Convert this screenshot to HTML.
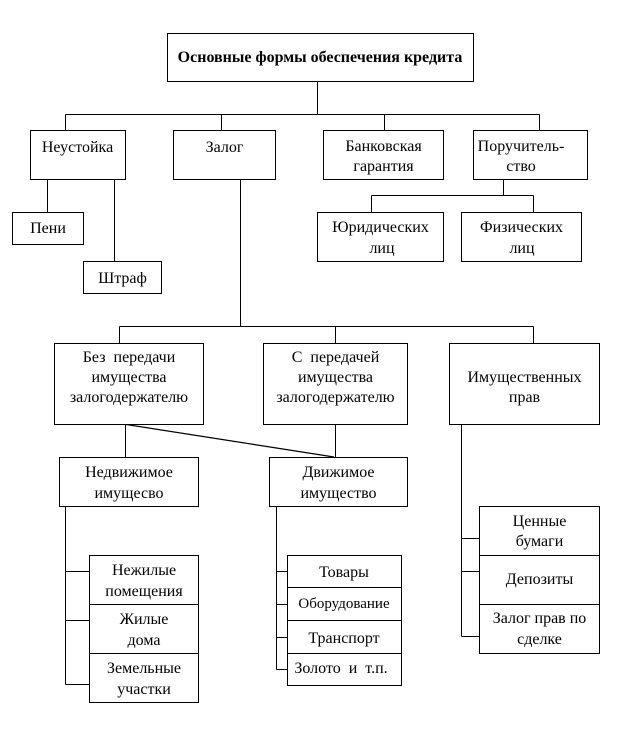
<!DOCTYPE html>
<html>
<head>
<meta charset="utf-8">
<style>
  html,body{margin:0;padding:0;background:#fff;}
  svg{display:block;}
  text{font-family:"Liberation Serif","DejaVu Serif",serif;font-size:16px;fill:#000;text-anchor:middle;white-space:pre;}
</style>
</head>
<body>
<svg width="642" height="741" viewBox="0 0 642 741" xmlns="http://www.w3.org/2000/svg">
<g fill="none" stroke="#000" stroke-width="1" shape-rendering="crispEdges">
  <!-- top -->
  <rect x="167.5" y="33.5" width="306" height="48"/>
  <line x1="317.5" y1="81.5" x2="317.5" y2="114.5"/>
  <line x1="65.5" y1="114.5" x2="539.5" y2="114.5"/>
  <line x1="65.5" y1="114.5" x2="65.5" y2="130.5"/>
  <line x1="221.5" y1="114.5" x2="221.5" y2="130.5"/>
  <line x1="384.5" y1="114.5" x2="384.5" y2="130.5"/>
  <line x1="539.5" y1="114.5" x2="539.5" y2="130.5"/>
  <!-- row 1 -->
  <rect x="30.5" y="130.5" width="95" height="49"/>
  <rect x="173.5" y="130.5" width="102" height="49"/>
  <rect x="323.5" y="130.5" width="120" height="49"/>
  <rect x="473.5" y="130.5" width="114" height="49"/>
  <!-- Неустойка children -->
  <line x1="47.5" y1="179.5" x2="47.5" y2="212.5"/>
  <rect x="12.5" y="212.5" width="71" height="32"/>
  <line x1="114.5" y1="179.5" x2="114.5" y2="261.5"/>
  <rect x="83.5" y="261.5" width="78" height="32"/>
  <!-- Поручительство children -->
  <line x1="503.5" y1="179.5" x2="503.5" y2="195.5"/>
  <line x1="371.5" y1="195.5" x2="533.5" y2="195.5"/>
  <line x1="371.5" y1="195.5" x2="371.5" y2="212.5"/>
  <line x1="533.5" y1="195.5" x2="533.5" y2="212.5"/>
  <rect x="317.5" y="212.5" width="126" height="49"/>
  <rect x="461.5" y="212.5" width="120" height="49"/>
  <!-- Залог children -->
  <line x1="240.5" y1="179.5" x2="240.5" y2="326.5"/>
  <line x1="119.5" y1="326.5" x2="533.5" y2="326.5"/>
  <line x1="119.5" y1="326.5" x2="119.5" y2="343.5"/>
  <line x1="335.5" y1="326.5" x2="335.5" y2="343.5"/>
  <line x1="533.5" y1="326.5" x2="533.5" y2="343.5"/>
  <rect x="54.5" y="343.5" width="149" height="81"/>
  <rect x="263.5" y="343.5" width="144" height="81"/>
  <rect x="449.5" y="343.5" width="150" height="81"/>
  <!-- row 3 connectors -->
  <line x1="125.5" y1="424.5" x2="125.5" y2="457.5"/>
  <line x1="335.5" y1="424.5" x2="335.5" y2="457.5"/>
  <rect x="59.5" y="457.5" width="139" height="49"/>
  <rect x="269.5" y="457.5" width="138" height="49"/>
  <!-- left group -->
  <line x1="65.5" y1="506.5" x2="65.5" y2="684.5"/>
  <line x1="65.5" y1="571.5" x2="89.5" y2="571.5"/>
  <line x1="65.5" y1="620.5" x2="89.5" y2="620.5"/>
  <line x1="65.5" y1="684.5" x2="89.5" y2="684.5"/>
  <rect x="89.5" y="555.5" width="109" height="49"/>
  <rect x="89.5" y="604.5" width="109" height="49"/>
  <rect x="89.5" y="653.5" width="109" height="49"/>
  <!-- middle group -->
  <line x1="276.5" y1="506.5" x2="276.5" y2="669.5"/>
  <line x1="276.5" y1="571.5" x2="287.5" y2="571.5"/>
  <line x1="276.5" y1="604.5" x2="287.5" y2="604.5"/>
  <line x1="276.5" y1="637.5" x2="287.5" y2="637.5"/>
  <line x1="276.5" y1="669.5" x2="287.5" y2="669.5"/>
  <rect x="287.5" y="555.5" width="114" height="32"/>
  <rect x="287.5" y="587.5" width="114" height="33"/>
  <rect x="287.5" y="620.5" width="114" height="33"/>
  <rect x="287.5" y="653.5" width="114" height="32"/>
  <!-- right group -->
  <line x1="461.5" y1="424.5" x2="461.5" y2="636.5"/>
  <line x1="461.5" y1="538.5" x2="479.5" y2="538.5"/>
  <line x1="461.5" y1="571.5" x2="479.5" y2="571.5"/>
  <line x1="461.5" y1="636.5" x2="479.5" y2="636.5"/>
  <rect x="479.5" y="506.5" width="120" height="49"/>
  <rect x="479.5" y="555.5" width="120" height="49"/>
  <rect x="479.5" y="604.5" width="120" height="49"/>
</g>
<line x1="126" y1="424.5" x2="334" y2="457" stroke="#000" stroke-width="1.2"/>

<text x="320" y="62" style="font-weight:bold">Основные формы обеспечения кредита</text>

<text x="77.5" y="152">Неустойка</text>
<text x="224.5" y="152">Залог</text>
<text x="383.5" y="151">Банковская</text>
<text x="383.5" y="171">гарантия</text>
<text x="521" y="151">Поручитель-</text>
<text x="521" y="171">ство</text>

<text x="48" y="233">Пени</text>
<text x="122.5" y="283">Штраф</text>

<text x="380.5" y="232">Юридических</text>
<text x="382" y="253">лиц</text>
<text x="521.5" y="232">Физических</text>
<text x="522" y="253">лиц</text>

<text x="129" y="362">Без  передачи</text>
<text x="129" y="382">имущества</text>
<text x="129" y="402">залогодержателю</text>
<text x="335.5" y="362">С  передачей</text>
<text x="335.5" y="382">имущества</text>
<text x="335.5" y="402">залогодержателю</text>
<text x="524.5" y="382">Имущественных</text>
<text x="524.5" y="402">прав</text>

<text x="129" y="477">Недвижимое</text>
<text x="129" y="498">имущесво</text>
<text x="338.5" y="477">Движимое</text>
<text x="338.5" y="498">имущество</text>

<text x="144" y="575">Нежилые</text>
<text x="144" y="596">помещения</text>
<text x="144" y="624">Жилые</text>
<text x="144" y="645">дома</text>
<text x="144" y="673">Земельные</text>
<text x="144" y="694">участки</text>

<text x="344" y="577">Товары</text>
<text x="344" y="608" style="font-size:15px">Оборудование</text>
<text x="344" y="643">Транспорт</text>
<text x="341" y="673">Золото  и  т.п.</text>

<text x="539.5" y="526">Ценные</text>
<text x="539.5" y="546">бумаги</text>
<text x="539.5" y="584">Депозиты</text>
<text x="539.5" y="623">Залог прав по</text>
<text x="539.5" y="644">сделке</text>
</svg>
</body>
</html>
